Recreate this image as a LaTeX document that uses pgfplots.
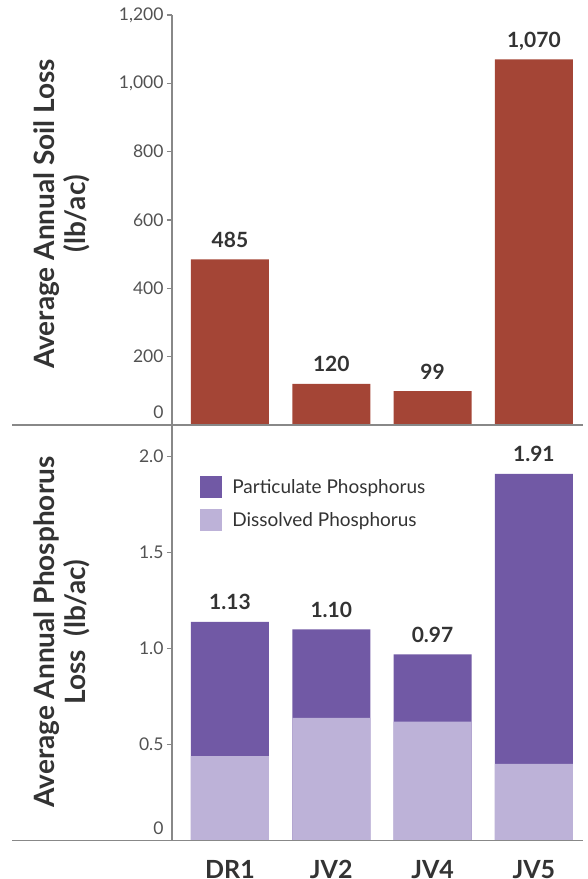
\documentclass[border=0pt]{standalone}
\usepackage{fontspec}
\setmainfont{Lato}
\usepackage{pgfplots}
\usepackage{pgfplotstable}
\pgfplotsset{compat=1.18}

\definecolor{soil}{HTML}{A44536}
\definecolor{partP}{HTML}{7159A5}
\definecolor{dissP}{HTML}{BDB2D8}
\definecolor{txt}{HTML}{333333}
\definecolor{axgray}{HTML}{888888}

\pgfplotstableread{
x soil label
0 485 485
1 120 120
2 99 99
3 1070 1,070
}\soiltable

% total = particulate + dissolved (bar height), diss = dissolved part
\pgfplotstableread{
x total diss label
0 1.14 0.44 1.13
1 1.10 0.64 1.10
2 0.97 0.62 0.97
3 1.91 0.40 1.91
}\phostable

\pgfplotsset{
  panel/.style={
    scale only axis, width=411pt,
    xmin=-0.5725, xmax=3.485,
    axis lines*=left,
    x axis line style={draw=none},
    y axis line style={axgray, line width=1.5pt},
    ytick pos=left, tick align=outside,
    major tick length=5pt,
    major y tick style={axgray, line width=1.2pt},
    major x tick style={draw=none},
    yticklabel style={font=\fontsize{17.5}{17.5}\selectfont, text=txt!85},
    ylabel style={align=center, font=\bfseries\fontsize{28}{31}\selectfont,
      text=txt, anchor=center},
    nodes near coords style={font=\bfseries\fontsize{21}{21}\selectfont,
      text=txt, anchor=base, yshift=12pt, inner sep=0pt},
    bar width=0.77,
  }
}

\begin{document}
\begin{tikzpicture}
\useasboundingbox (0,0) rectangle (587pt,879pt);

% soil loss panel
\begin{axis}[panel,
  at={(172pt,454pt)}, anchor=south west,
  height=410pt, ymin=0, ymax=1200,
  ytick={0,200,400,600,800,1000,1200},
  yticklabels={\raisebox{6pt}[0pt][0pt]{0},200,400,600,800,{1,000},{1,200}},
  xtick=\empty,
  ylabel={Average Annual Soil Loss\\(lb/ac)},
  ylabel style={at={(axis description cs:-0.2676,0.515)}},
  ybar, bar shift=0pt,
  point meta=explicit symbolic, nodes near coords]
\addplot[fill=soil, draw=none] table[x=x, y=soil, meta=label] {\soiltable};
\end{axis}

% phosphorus panel
\begin{axis}[panel,
  at={(172pt,38.3pt)}, anchor=south west,
  height=415.7pt, ymin=0, ymax=2.165,
  ytick={0,0.5,1,1.5,2},
  yticklabels={\raisebox{6pt}[0pt][0pt]{0},0.5,1.0,1.5,2.0},
  xtick={0,1,2,3}, xticklabels={DR1,JV2,JV4,JV5},
  xticklabel style={font=\bfseries\fontsize{25}{25}\selectfont, text=txt,
    anchor=base, yshift=-33pt, inner sep=0pt},
  ylabel={Average Annual Phosphorus\\Loss~~(lb/ac)},
  ylabel style={at={(axis description cs:-0.268,0.502)}},
  ybar, bar shift=0pt,
  legend style={at={(0.061,0.882)}, anchor=north west, draw=none, fill=none,
    font=\fontsize{19}{19}\selectfont, text=txt, row sep=11pt,
    nodes={inner sep=0pt}},
  legend cell align=left,
  legend image code/.code={\fill[#1] (0pt,-11pt) rectangle (22pt,11pt);
    \path (32pt,0pt);}]
\addplot[fill=partP, draw=none, point meta=explicit symbolic, nodes near coords]
  table[x=x, y=total, meta=label] {\phostable};
\addlegendentry{Particulate Phosphorus}
\addplot[fill=dissP, draw=none] table[x=x, y=diss] {\phostable};
\addlegendentry{Dissolved Phosphorus}
\end{axis}

% full-width base lines
\draw[axgray, line width=1.5pt] (12pt,454pt) -- (583pt,454pt);
\draw[axgray, line width=1.5pt] (12pt,38.3pt) -- (583pt,38.3pt);
\end{tikzpicture}
\end{document}
